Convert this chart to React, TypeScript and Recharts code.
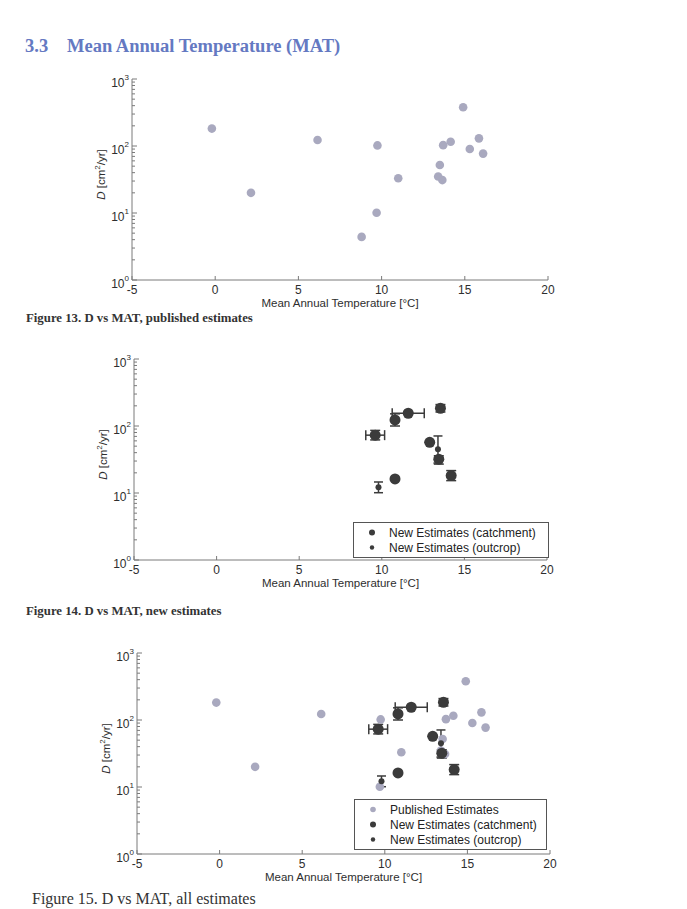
import { ScatterChart, Scatter, XAxis, YAxis, ErrorBar, Legend } from "recharts";

// published estimates (MAT in °C, D in cm2/yr)
const pubMat = [-0.2, 2.15, 6.15, 9.75, 9.7, 8.8, 11.0, 14.9, 13.7, 14.15, 13.5, 13.4, 13.65, 15.85, 15.3, 16.1];
const pubD = [182, 20, 123, 102, 10.1, 4.4, 33, 378, 103, 116, 52, 35, 31, 130, 90, 77];

// new estimates, catchment
const catchMat = [9.6, 10.8, 11.6, 13.55, 12.9, 13.45, 14.2, 10.8];
const catchD = [73, 123, 155, 184, 57, 32, 18.2, 16.2];
const catchMatErr = [0.57, 0, 0.97, 0, 0, 0, 0, 0];
const catchDErrLow = [11, 23, 0, 22, 0, 5, 2.9, 0];
const catchDErrHigh = [13, 29, 0, 25, 0, 4, 3.4, 0];

// new estimates, outcrop
const outMat = [9.8, 13.4];
const outD = [12.2, 45];
const outDErrLow = [2.1, 17];
const outDErrHigh = [2.4, 26];

const xTicks = [-5, 0, 5, 10, 15, 20];
const yMajor = [1, 10, 100, 1000];
const yTicks = [1, 10, 100].flatMap((b) => [1, 2, 3, 4, 5, 6, 7, 8, 9].map((m) => m * b)).concat([1000]);

const published = pubMat.map((m, i) => ({ mat: m, d: pubD[i] }));
const catchment = catchMat.map((m, i) => ({
  mat: m,
  d: catchD[i],
  matErr: catchMatErr[i],
  dErr: [catchDErrLow[i], catchDErrHigh[i]],
}));
const outcrop = outMat.map((m, i) => ({ mat: m, d: outD[i], dErr: [outDErrLow[i], outDErrHigh[i]] }));

const SANS = '"Liberation Sans", Arial, sans-serif';
const SERIF = '"Liberation Serif", "Times New Roman", serif';
const AXIS = "#7a7a7a";
const TXT = "#2e2e2e";
const PUB = "#a9a9bf";
const DARK = "#3b3b3b";

function XTick({ x, y, payload }: any) {
  return (
    <g>
      <line x1={x} y1={y} x2={x} y2={y - 4} stroke={AXIS} />
      <text x={x} y={y + 14} textAnchor="middle" fontSize={12} fontFamily={SANS} fill={TXT}>
        {payload.value}
      </text>
    </g>
  );
}

function YTick({ x, y, payload }: any) {
  const v = payload.value;
  const major = yMajor.includes(v);
  return (
    <g>
      <line x1={x} y1={y} x2={x + (major ? 5 : 3)} y2={y} stroke={AXIS} />
      {major && (
        <text x={x - 3} y={y + 8} textAnchor="end" fontSize={12} fontFamily={SANS} fill={TXT}>
          10
          <tspan dy={-7} fontSize={8}>
            {Math.round(Math.log10(v))}
          </tspan>
        </text>
      )}
    </g>
  );
}

function XLabel({ viewBox }: any) {
  return (
    <text
      x={viewBox.x + viewBox.width / 2}
      y={viewBox.y + 27}
      textAnchor="middle"
      fontSize={11.5}
      fontFamily={SANS}
      fill={TXT}
    >
      Mean Annual Temperature [°C]
    </text>
  );
}

function YLabel({ viewBox }: any) {
  const cx = viewBox.x + viewBox.width - 27;
  const cy = viewBox.y + viewBox.height / 2 - 5;
  return (
    <text
      x={cx}
      y={cy}
      transform={`rotate(-90 ${cx} ${cy})`}
      textAnchor="middle"
      fontSize={11.5}
      fontFamily={SANS}
      fill={TXT}
    >
      <tspan fontStyle="italic">D</tspan>
      {"  [cm"}
      <tspan dy={-5} fontSize={8}>
        2
      </tspan>
      <tspan dy={5}>/yr]</tspan>
    </text>
  );
}

const PubDot = (p: any) => <circle cx={p.cx} cy={p.cy} r={4.3} fill={PUB} />;
const CatchDot = (p: any) => <circle cx={p.cx} cy={p.cy} r={5.5} fill={DARK} />;
const OutDot = (p: any) => <circle cx={p.cx} cy={p.cy} r={3} fill={DARK} />;

type Item = { label: string; color: string; r: number };

function LegendBox({ items, rowH }: { items: Item[]; rowH: number }) {
  return (
    <div
      style={{
        background: "#fff",
        border: "1px solid #555",
        boxSizing: "border-box",
        padding: "2px 0",
        fontFamily: SANS,
        fontSize: 12,
        color: "#222",
      }}
    >
      {items.map((it) => (
        <div key={it.label} style={{ display: "flex", alignItems: "center", height: rowH }}>
          <svg width={35} height={rowH} style={{ flex: "none" }}>
            <circle cx={18} cy={rowH / 2} r={it.r} fill={it.color} />
          </svg>
          <span>{it.label}</span>
        </div>
      ))}
    </div>
  );
}

const pubItem = { label: "Published Estimates", color: PUB, r: 2.8 };
const catchItem = { label: "New Estimates (catchment)", color: DARK, r: 3 };
const outItem = { label: "New Estimates (outcrop)", color: DARK, r: 2.2 };

type PanelProps = {
  top: number;
  left: number;
  right: number;
  showPub: boolean;
  showNew: boolean;
  legend?: { left: number; top: number; width: number; rowH: number; items: Item[] };
};

function Panel({ top, left, right, showPub, showNew, legend }: PanelProps) {
  const plotH = 201;
  const h = 10 + plotH + 40;
  return (
    <div style={{ position: "absolute", left: 0, top: top - 10 }}>
      <ScatterChart width={687} height={h} margin={{ top: 10, left: left - 50, right: 687 - right, bottom: 0 }}>
        <XAxis
          type="number"
          dataKey="mat"
          domain={[-5, 20]}
          ticks={xTicks}
          interval={0}
          allowDataOverflow
          tickSize={0}
          tickMargin={0}
          tickLine={false}
          tick={<XTick />}
          axisLine={{ stroke: AXIS }}
          height={40}
          label={XLabel}
        />
        <YAxis
          type="number"
          dataKey="d"
          scale="log"
          domain={[1, 1000]}
          ticks={yTicks}
          interval={0}
          allowDataOverflow
          tickSize={0}
          tickMargin={0}
          tickLine={false}
          tick={<YTick />}
          axisLine={{ stroke: AXIS }}
          width={50}
          label={YLabel}
        />
        {showPub && <Scatter data={published} shape={PubDot} isAnimationActive={false} />}
        {showNew && (
          <Scatter data={catchment} shape={CatchDot} isAnimationActive={false}>
            <ErrorBar dataKey="dErr" direction="y" width={5} stroke={DARK} />
            <ErrorBar dataKey="matErr" direction="x" width={5} stroke={DARK} />
          </Scatter>
        )}
        {showNew && (
          <Scatter data={outcrop} shape={OutDot} isAnimationActive={false}>
            <ErrorBar dataKey="dErr" direction="y" width={4.5} stroke={DARK} />
          </Scatter>
        )}
        {legend && (
          <Legend
            layout="vertical"
            align="center"
            verticalAlign="middle"
            wrapperStyle={{ left: legend.left, top: legend.top - (top - 10), width: legend.width }}
            content={() => <LegendBox items={legend.items} rowH={legend.rowH} />}
          />
        )}
      </ScatterChart>
    </div>
  );
}

function Caption({ top, left, size, bold, children }: any) {
  return (
    <div
      style={{
        position: "absolute",
        left,
        top,
        fontFamily: SERIF,
        fontSize: size,
        fontWeight: bold ? 700 : 400,
        lineHeight: 1,
        color: "#333",
        whiteSpace: "nowrap",
      }}
    >
      {children}
    </div>
  );
}

export default function App() {
  return (
    <div style={{ position: "absolute", left: 0, top: 0, width: 687, height: 909, overflow: "hidden", background: "#fff" }}>
      <div
        style={{
          position: "absolute",
          left: 25,
          top: 37,
          fontFamily: SERIF,
          fontSize: 18.5,
          fontWeight: 700,
          lineHeight: 1,
          color: "#6479c2",
          whiteSpace: "nowrap",
        }}
      >
        <span>3.3</span>
        <span style={{ position: "absolute", left: 42 }}>Mean Annual Temperature (MAT)</span>
      </div>

      <Panel top={79} left={132} right={548} showPub showNew={false} />
      <Caption top={312} left={26} size={12.8} bold>
        Figure 13. D vs MAT, published estimates
      </Caption>

      <Panel
        top={359}
        left={134}
        right={547}
        showPub={false}
        showNew
        legend={{ left: 353, top: 522, width: 196, rowH: 15, items: [catchItem, outItem] }}
      />
      <Caption top={605} left={26} size={12.8} bold>
        Figure 14. D vs MAT, new estimates
      </Caption>

      <Panel
        top={653}
        left={137}
        right={550}
        showPub
        showNew
        legend={{ left: 354, top: 799, width: 193, rowH: 15, items: [pubItem, catchItem, outItem] }}
      />
      <Caption top={891} left={32} size={16}>
        Figure 15. D vs MAT, all estimates
      </Caption>
    </div>
  );
}
